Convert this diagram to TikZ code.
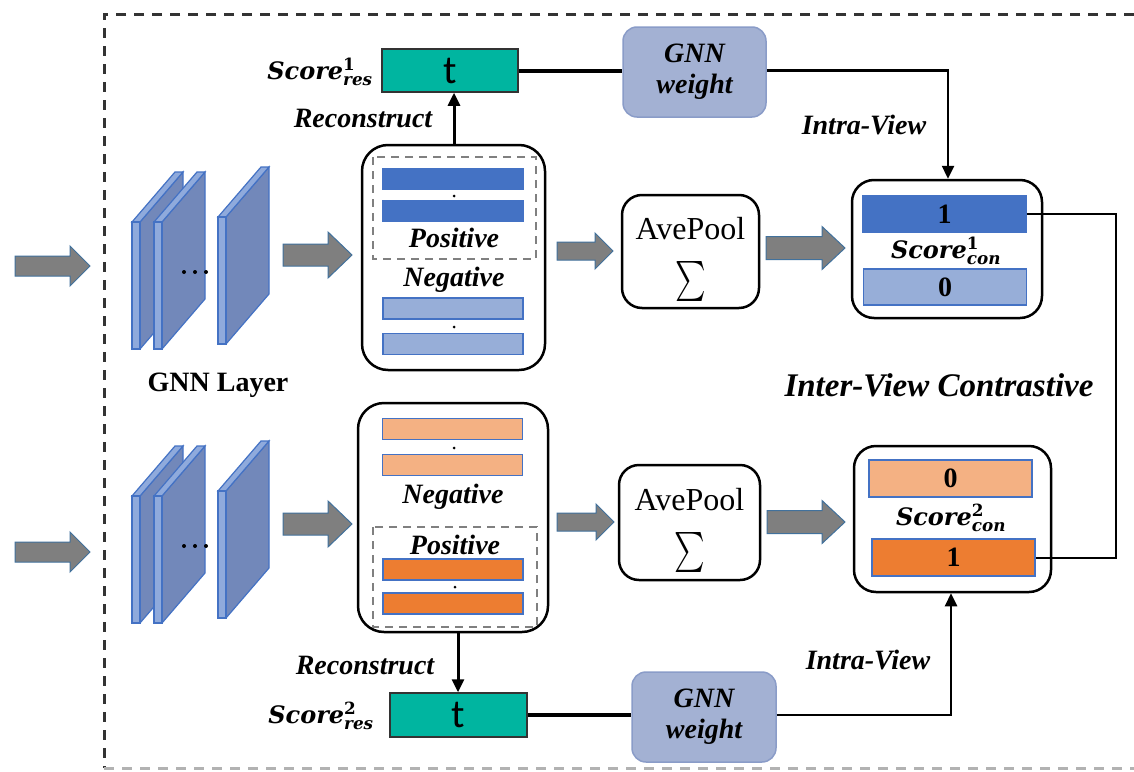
\documentclass[tikz,border=0pt]{standalone}
\usepackage{fontspec}
\usepackage{amsmath}
\setmainfont{Liberation Serif}
\newfontfamily\scorefont{DejaVu Serif}
\newfontfamily\tfont{Carlito}
\usetikzlibrary{arrows.meta}

\definecolor{slabface}{HTML}{7288BA}
\definecolor{slabedge}{HTML}{8FAADC}
\definecolor{slabline}{HTML}{4472C4}
\definecolor{arrowfill}{HTML}{7F7F7F}
\definecolor{arrowline}{HTML}{41719C}
\definecolor{posblue}{HTML}{4472C4}
\definecolor{negblue}{HTML}{97AED8}
\definecolor{negorange}{HTML}{F4B183}
\definecolor{posorange}{HTML}{ED7D31}
\definecolor{tealbox}{HTML}{00B5A0}
\definecolor{weightfill}{HTML}{A3B1D3}
\definecolor{weightline}{HTML}{8A9CC8}

% one GNN slab: front edge at x=#1, top of front edge at y=#2
\newcommand\slab[2]{%
  \fill[slabface] (#1+8,#2) -- (#1+51,#2-50) -- (#1+51,#2+77) -- (#1+8,#2+127) -- cycle;
  \draw[slabline, line width=1.2pt] (#1+8,#2) -- (#1+51,#2-50) -- (#1+51,#2+77) -- (#1+8,#2+127);
  \draw[slabline, line width=1.2pt, fill=slabedge] (#1,#2) -- (#1+43,#2-50) -- (#1+51,#2-50) -- (#1+8,#2) -- cycle;
  \draw[slabline, line width=1.2pt, fill=slabedge] (#1,#2) rectangle (#1+8,#2+127);
}
% grey block arrow: x from, x to, y, shaft half height, head half height, head length
\newcommand\fatarrow[6]{%
  \draw[arrowline, line width=1pt, fill=arrowfill]
    (#1,#3-#4) -- (#2-#6,#3-#4) -- (#2-#6,#3-#5) -- (#2,#3) -- (#2-#6,#3+#5)
    -- (#2-#6,#3+#4) -- (#1,#3+#4) -- cycle;
}
\newcommand\scorelab[2]{{\scorefont\bfseries\itshape Score}$^{\text{\scorefont\bfseries #1}}_{\text{\scorefont\bfseries\itshape #2}}$}
\newcommand\poolsum{\scalebox{2.9}[4.0]{$\textstyle\sum$}}

\tikzset{
  holder/.style={draw=black, line width=2.5pt, rounded corners=26pt, fill=white, inner sep=0pt},
  poolbox/.style={draw=black, line width=2.5pt, rounded corners=20pt, fill=white, inner sep=0pt},
  bar/.style={draw=slabline, line width=1.2pt, inner sep=0pt, minimum width=140pt, minimum height=21pt},
  scorebar/.style={draw=slabline, line width=1.2pt, inner sep=0pt, minimum width=163pt, minimum height=36pt,
    font=\bfseries\fontsize{28}{28}\selectfont},
  resbox/.style={draw=black!80, line width=1.5pt, fill=tealbox, inner sep=0pt, minimum width=136pt,
    minimum height=43pt, font=\tfont\fontsize{40}{40}\selectfont},
  weightbox/.style={draw=weightline, line width=1.5pt, fill=weightfill, rounded corners=14pt, inner sep=0pt,
    minimum width=143pt, minimum height=90pt, align=center, font=\bfseries\itshape\fontsize{28}{31}\selectfont},
  lab/.style={font=\bfseries\itshape\fontsize{28}{30}\selectfont, inner sep=0pt},
  sclab/.style={font=\fontsize{24}{24}\selectfont, inner sep=0pt},
  dot/.style={circle, fill=black, inner sep=0pt, minimum size=3pt},
  posframe/.style={draw=gray, dashed, dash pattern=on 8pt off 6pt, line width=1.8pt},
  link/.style={draw=black, line width=2.5pt},
  thick link/.style={draw=black, line width=4pt},
  tip/.style={-{Triangle[length=13pt,width=12pt]}},
  pooltext/.style={font=\fontsize{32}{32}\selectfont, inner sep=0pt},
  poolsign/.style={inner sep=0pt},
}

\begin{document}
\begin{tikzpicture}[x=1pt, y=-1pt]
\useasboundingbox (0,0) rectangle (1134,771);
\fill[white] (0,0) rectangle (1134,771);

% outer dashed frame
\draw[black!80, line width=3pt, dash pattern=on 10pt off 8pt] (1134,14) -- (104,14) -- (104,768);
\draw[gray!60, line width=3pt, dash pattern=on 10pt off 8pt] (104,768) -- (1134,768);

% input arrows
\fatarrow{15}{90}{266}{10}{20}{20}
\fatarrow{15}{90}{552}{10}{20}{20}

% GNN layers
\slab{132}{222}
\slab{154}{222}
\fill (184,272) circle (2pt) (195,272) circle (2pt) (206,272) circle (2pt);
\slab{218}{217}
\slab{132}{496}
\slab{154}{496}
\fill (184,546) circle (2pt) (195,546) circle (2pt) (206,546) circle (2pt);
\slab{218}{491}
\node[font=\bfseries\fontsize{28}{28}\selectfont, inner sep=0pt] (gnnlayer) at (218,385) {GNN Layer};

% block arrows along each view
\fatarrow{283}{352}{255}{11}{23}{24}
\fatarrow{557}{613}{251}{9}{18}{18}
\fatarrow{766}{845}{248}{11.5}{21.5}{23}
\fatarrow{283}{352}{524}{11}{23}{24}
\fatarrow{557}{614}{522}{9}{18}{18}
\fatarrow{767}{845}{522}{11.5}{21.5}{23}

% view 1 embeddings
\node[holder, minimum width=183pt, minimum height=225pt] (emb1) at (453.5,257.5) {};
\draw[posframe] (373,157) rectangle (536,259);
\node[bar, fill=posblue] (p1a) at (453,179) {};
\node[bar, fill=posblue] (p1b) at (453,211) {};
\node[dot] at (454,196) {};
\node[lab] (pos1) at (454,238) {Positive};
\node[lab] (neg1) at (454,280) {Negative};
\node[bar, fill=negblue] (n1a) at (453,308.5) {};
\node[bar, fill=negblue] (n1b) at (453,344) {};
\node[dot] at (454,327) {};

% view 2 embeddings
\node[holder, minimum width=190pt, minimum height=229pt] (emb2) at (453,517.5) {};
\node[bar, fill=negorange] (n2a) at (452.5,429) {};
\node[bar, fill=negorange] (n2b) at (452.5,465) {};
\node[dot] at (454,448) {};
\node[lab] (neg2) at (453,497) {Negative};
\draw[posframe] (373,527) rectangle (537,627);
\node[lab] (pos2) at (455,545) {Positive};
\node[bar, fill=posorange] (p2a) at (453,569.5) {};
\node[bar, fill=posorange] (p2b) at (453,603.5) {};
\node[dot] at (455,587) {};

% average pooling
\node[poolbox, minimum width=137pt, minimum height=113pt] (pool1) at (690.5,251.5) {};
\node[pooltext] at (690.5,229) {AvePool};
\node[poolsign] at (690.5,281) {\poolsum};
\node[poolbox, minimum width=141pt, minimum height=115pt] (pool2) at (689.5,522.5) {};
\node[pooltext] at (689.5,500) {AvePool};
\node[poolsign] at (689.5,552) {\poolsum};

% contrastive scores
\node[holder, rounded corners=22pt, minimum width=190pt, minimum height=138pt] (con1) at (947,249) {};
\node[scorebar, fill=posblue] (c1one) at (944.5,214) {1};
\node[sclab] at (946,251) {\scorelab{1}{con}};
\node[scorebar, fill=negblue] (c1zero) at (945,287) {0};
\node[holder, rounded corners=22pt, minimum width=197pt, minimum height=146pt] (con2) at (952.5,519) {};
\node[scorebar, fill=negorange, minimum height=37pt] (c2zero) at (950.5,478.5) {0};
\node[sclab] at (951,518) {\scorelab{2}{con}};
\node[scorebar, fill=posorange, minimum height=37pt] (c2one) at (953.5,557.5) {1};

\node[lab, font=\bfseries\itshape\fontsize{33}{33}\selectfont] (inter) at (939,385) {Inter-View Contrastive};
\coordinate (rside) at (1116,385);
\draw[black, line width=2pt] (c1one.east) -- (c1one.east -| rside) -- (c2one.east -| rside) -- (c2one.east);

% reconstruction scores and GNN weights
\node[resbox] (res1) at (450,70.5) {t};
\node[sclab] (sres1) at (320,72) {\scorelab{1}{res}};
\node[resbox, minimum width=137pt, minimum height=44pt] (res2) at (458.5,715) {t};
\node[sclab] (sres2) at (321,716) {\scorelab{2}{res}};

\coordinate (up1) at (454,0);
\coordinate (down2) at (458,0);
\coordinate (intra1) at (948,0);
\coordinate (intra2) at (951,0);

\draw[link, line width=3pt, tip] (emb1.north -| up1) -- (res1.south -| up1);
\node[lab] at (363,118) {Reconstruct};
\draw[link, line width=3pt, tip] (emb2.south -| down2) -- (res2.north -| down2);
\node[lab] at (365,665) {Reconstruct};

\node[weightbox] (w1) at (694.5,72) {GNN\\weight};
\node[weightbox, minimum width=144pt] (w2) at (704,717) {GNN\\weight};

\draw[thick link] (res1.east) -- (res1.east -| w1.west);
\draw[link, tip] (w1.east |- res1.east) -| (intra1 |- con1.north);
\node[lab] at (864,125) {Intra-View};
\draw[thick link] (res2.east) -- (res2.east -| w2.west);
\draw[link, tip] (w2.east |- res2.east) -| (intra2 |- con2.south);
\node[lab] at (868,660) {Intra-View};
\end{tikzpicture}
\end{document}
